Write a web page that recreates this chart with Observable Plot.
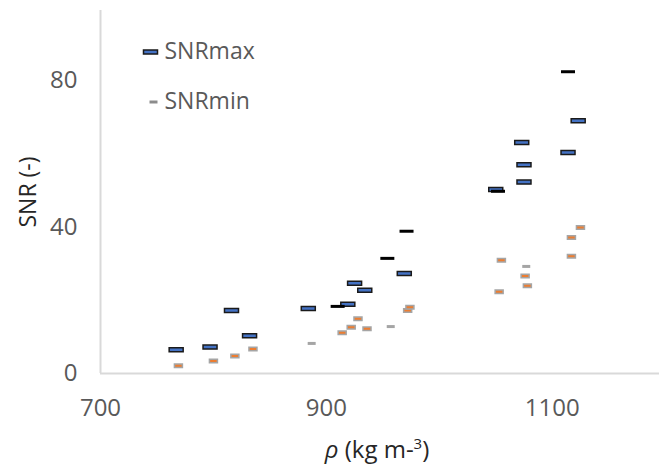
<!DOCTYPE html>
<html>
<head>
<meta charset="utf-8">
<script src="https://cdn.jsdelivr.net/npm/d3@7"></script>
<script src="https://cdn.jsdelivr.net/npm/@observablehq/plot@0.6"></script>
<style>
  html, body { margin: 0; padding: 0; background: #fff; }
  #chart svg { display: block; }
</style>
</head>
<body>
<div id="chart"></div>
<script>
// SNRmax (blue, outlined) and SNRmax (black) markers
const maxBlueX = [767, 797, 816, 832, 884, 919, 925, 934, 969, 1050, 1073, 1075, 1075, 1114, 1123];
const maxBlueY = [6.5, 7.2, 17.2, 10.3, 17.7, 18.9, 24.6, 22.7, 27.3, 50.2, 63.0, 56.9, 52.2, 60.3, 68.9];
const maxBlackX = [910, 954, 971, 1052, 1114];
const maxBlackY = [18.3, 31.4, 38.8, 49.7, 82.3];
// SNRmin (orange, outlined) and SNRmin (grey) markers
const minOrangeX = [769, 800, 819, 835, 914, 922, 928, 936, 972, 974, 1053, 1055, 1076, 1078, 1117, 1117, 1125];
const minOrangeY = [2.1, 3.4, 4.8, 6.7, 11.1, 12.6, 14.9, 12.2, 17.2, 18.1, 22.3, 30.9, 26.6, 23.9, 32.0, 37.1, 39.8];
const minGreyX = [887, 957, 1077];
const minGreyY = [8.2, 12.8, 29.2];

const xTicks = [700, 900, 1100];
const yTicks = [0, 40, 80];
const seriesNames = ["SNRmax", "SNRmin"];
const xLabel = "ρ (kg m-³)";
const yLabel = "SNR (-)";

const toRows = (xs, ys) => xs.map((x, i) => ({x, y: ys[i]}));
const maxBlue = toRows(maxBlueX, maxBlueY);
const maxBlack = toRows(maxBlackX, maxBlackY);
const minOrange = toRows(minOrangeX, minOrangeY);
const minGrey = toRows(minGreyX, minGreyY);

const rectSymbol = (w, h) => ({ draw(ctx) { ctx.rect(-w / 2, -h / 2, w, h); } });
const bigDash = rectSymbol(14, 4);
const thinDash = rectSymbol(14, 3);
const smallDash = rectSymbol(8, 3.5);
const smallThin = rectSymbol(8, 3);

const FONT = "'Open Sans', sans-serif";

const chart = Plot.plot({
  width: 659,
  height: 472,
  marginLeft: 100,
  marginRight: 0,
  marginTop: 10,
  marginBottom: 99,
  style: {fontFamily: FONT, color: "#595959", background: "#fff"},
  x: {domain: [700, 1195]},
  y: {domain: [0, 99]},
  marks: [
    Plot.ruleX([700], {stroke: "#d9d9d9", strokeWidth: 2}),
    Plot.ruleY([0], {stroke: "#d9d9d9", strokeWidth: 2}),
    Plot.axisX({ticks: xTicks, tickSize: 0, tickPadding: 25, fontSize: 24, label: null, tickFormat: d => String(d)}),
    Plot.axisY({ticks: yTicks, tickSize: 0, tickPadding: 23, fontSize: 24, label: null}),
    Plot.dot(minOrange, {x: "x", y: "y", symbol: smallDash, fill: "#ed7d31", stroke: "#a5a5a5", strokeWidth: 1.5}),
    Plot.dot(minGrey, {x: "x", y: "y", symbol: smallThin, fill: "#a5a5a5", stroke: "none"}),
    Plot.dot(maxBlue, {x: "x", y: "y", symbol: bigDash, fill: "#4472c4", stroke: "#1a1a1a", strokeWidth: 1.5}),
    Plot.dot(maxBlack, {x: "x", y: "y", symbol: thinDash, fill: "#000", stroke: "none"}),
    // legend
    Plot.dot([seriesNames[0]], {frameAnchor: "top-left", dx: 50, dy: 41.5, symbol: bigDash, fill: "#4472c4", stroke: "#1a1a1a", strokeWidth: 1.5}),
    Plot.dot([seriesNames[1]], {frameAnchor: "top-left", dx: 53, dy: 91.5, symbol: smallThin, fill: "#8c8c8c", stroke: "none"}),
    Plot.text([seriesNames[0]], {frameAnchor: "top-left", text: d => d, dx: 64, dy: 41, textAnchor: "start", lineAnchor: "middle", fontSize: 23, fill: "#595959"}),
    Plot.text([seriesNames[1]], {frameAnchor: "top-left", text: d => d, dx: 64, dy: 91, textAnchor: "start", lineAnchor: "middle", fontSize: 23, fill: "#595959"}),
    // axis titles
    Plot.text([yLabel], {frameAnchor: "left", text: d => d, rotate: -90, dx: -71.5, textAnchor: "middle", lineAnchor: "middle", fontSize: 23, fill: "#262626"}),
    Plot.text([xLabel], {frameAnchor: "bottom", text: d => d, dx: -3, dy: 77, textAnchor: "middle", lineAnchor: "middle", fontSize: 24, fill: "#262626"})
  ]
});

// italic rho and superscript in the x label
chart.querySelectorAll("text").forEach(t => {
  if (t.textContent === xLabel) {
    t.textContent = "";
    const ns = "http://www.w3.org/2000/svg";
    const a = document.createElementNS(ns, "tspan");
    a.setAttribute("font-style", "italic");
    a.textContent = "ρ";
    const b = document.createElementNS(ns, "tspan");
    b.textContent = " (kg m-";
    const c = document.createElementNS(ns, "tspan");
    c.setAttribute("font-size", "15");
    c.setAttribute("dy", "-9");
    c.textContent = "3";
    const d = document.createElementNS(ns, "tspan");
    d.setAttribute("dy", "9");
    d.textContent = ")";
    t.append(a, b, c, d);
  }
});

document.getElementById("chart").appendChild(chart);
</script>
</body>
</html>
